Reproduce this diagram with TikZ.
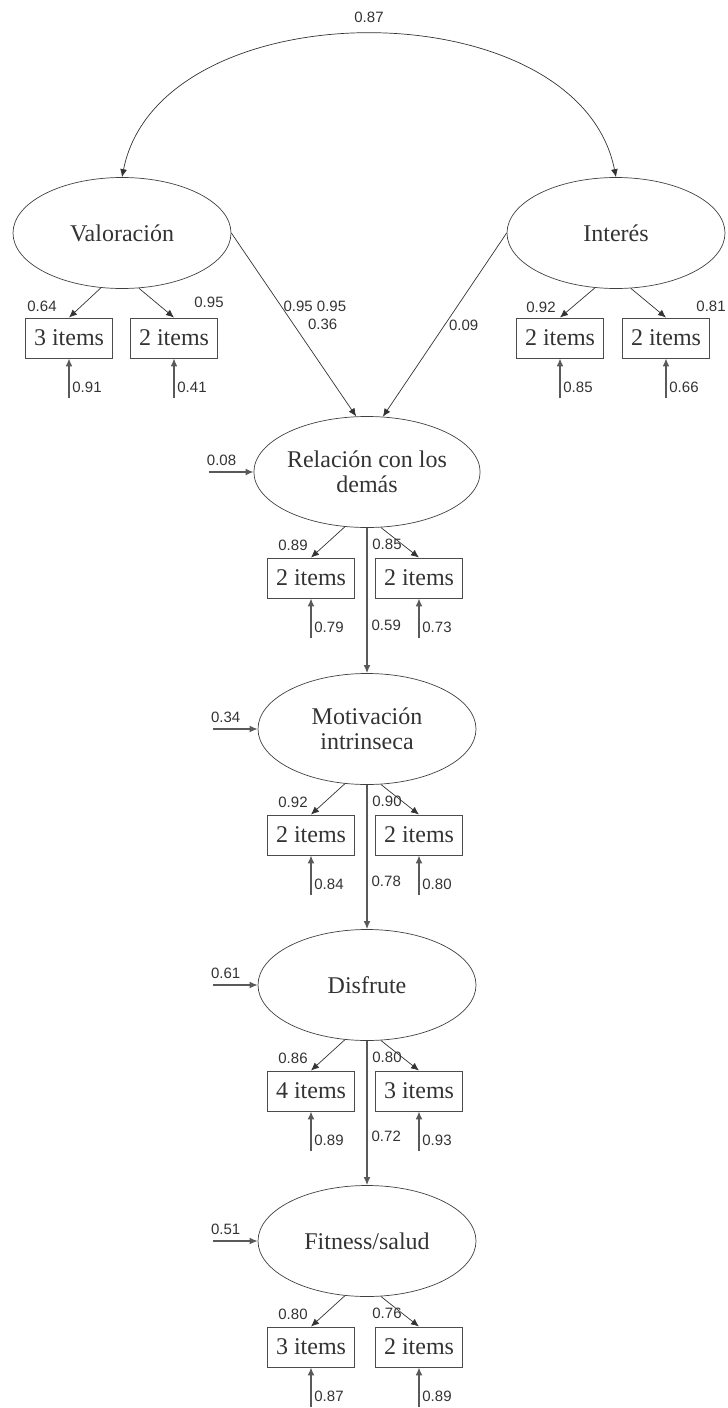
\documentclass[tikz,border=0pt]{standalone}
\usepackage{fontspec}
\setmainfont{Liberation Serif}
\newfontfamily\numfont{Liberation Sans}
\usepackage{tikz}
\usetikzlibrary{arrows.meta}
\usetikzlibrary{calc}
\usetikzlibrary{shapes}
\usetikzlibrary{positioning}
\tikzset{>={Latex[length=4pt,width=3.4pt]}}

\begin{document}
\begin{tikzpicture}[
        x=0.5pt, y=-0.5pt,
        latent/.style={ellipse, draw=black!75, line width=0.35pt, minimum width=109pt, minimum height=55.5pt,
            inner sep=0pt, align=center, text=black!80, font=\fontsize{12}{12.5}\selectfont},
        item/.style={draw=black!70, line width=0.45pt, minimum width=43.5pt, minimum height=20pt,
            inner sep=0pt, text=black!80, font=\fontsize{12}{12.5}\selectfont},
        load/.style={->, draw=black!80, line width=0.35pt},
        regress/.style={->, draw=black!65, line width=0.65pt},
        errarr/.style={->, draw=black!65, line width=0.6pt},
        coef/.style={inner sep=0pt, text=black!80, font=\numfont\fontsize{7.5}{8}\selectfont}
    ]
    \useasboundingbox (0,0) rectangle (728,1408);

    %=== Macros ===%
    \newcommand{\errorterm}[2]{
        \coordinate (#1e) at ($(#1.south)+(0,40)$);
        \draw[errarr] (#1e) -- (#1.south);
        \node[coef, anchor=west] at ($(#1.south)+(3,29)$) {#2};
    }
    \newcommand{\disturb}[2]{
        \coordinate (#1d) at ($(#1.west)+(-45,0)$);
        \draw[errarr] (#1d) -- (#1.west);
        \node[coef, anchor=south west] at ($(#1d)+(-2,-6)$) {#2};
    }
    \newcommand{\chainfactor}[9]{
        \pgfmathsetmacro{\yb}{#2+106}
        \node[latent] (#1) at (367,#2) {#3};
        \node[item] (#1a) at (311,\yb) {#4};
        \node[item] (#1b) at (419,\yb) {#5};
        \draw[load] (#1.-112) -- (#1a.north);
        \draw[load] (#1.-76) -- (#1b.north);
        \node[coef] at ($(#1a.north)+(-18,-12)$) {#6};
        \node[coef] at ($(#1b.north)+(-32,-13)$) {#7};
        \errorterm{#1a}{#8}
        \errorterm{#1b}{#9}
    }

    %=== Exogenous factors ===%
    \node[latent] (val) at (122,233) {Valoración};
    \node[latent] (int) at (616,233) {Interés};

    \draw[load, <->] (val.north) .. controls (160,-13) and (578,-13) .. (int.north)
        node[coef, pos=0.5, above=6pt] {0.87};

    \node[item] (va) at (69,338) {3 items};
    \node[item] (vb) at (174,338) {2 items};
    \node[item] (ia) at (560,338) {2 items};
    \node[item] (ib) at (666,338) {2 items};

    \draw[load] (val.-111) -- (va.north);
    \draw[load] (val.-73) -- (vb.north);
    \draw[load] (int.-111) -- (ia.north);
    \draw[load] (int.-75) -- (ib.north);
    \node[coef] at ($(va.north)+(-27,-11)$) {0.64};
    \node[coef] at ($(vb.north)+(35,-15)$) {0.95};
    \node[coef] at ($(ia.north)+(-19,-10)$) {0.92};
    \node[coef] at ($(ib.north)+(45,-11)$) {0.81};

    \errorterm{va}{0.91}
    \errorterm{vb}{0.41}
    \errorterm{ia}{0.85}
    \errorterm{ib}{0.66}

    %=== Chain of factors ===%
    \chainfactor{rel}{472}{Relación con los\\demás}{2 items}{2 items}{0.89}{0.85}{0.79}{0.73}
    \chainfactor{mot}{729}{Motivación\\intrinseca}{2 items}{2 items}{0.92}{0.90}{0.84}{0.80}
    \chainfactor{dis}{985}{Disfrute}{4 items}{3 items}{0.86}{0.80}{0.89}{0.93}
    \chainfactor{fit}{1241}{Fitness/salud}{3 items}{2 items}{0.80}{0.76}{0.87}{0.89}

    \disturb{rel}{0.08}
    \disturb{mot}{0.34}
    \disturb{dis}{0.61}
    \disturb{fit}{0.51}

    %=== Paths ===%
    \draw[load] (val.east) -- (rel.101)
        node[coef, pos=0.4, anchor=west, xshift=1pt] {0.95 0.95}
        node[coef, pos=0.5, anchor=west, xshift=7pt] {0.36};
    \draw[load] (int.west) -- (rel.74)
        node[coef, pos=0.5, anchor=west, xshift=2pt] {0.09};

    \draw[regress] (rel.south) -- (mot.north) node[coef, pos=0.67, anchor=west, xshift=2pt] {0.59};
    \draw[regress] (mot.south) -- (dis.north) node[coef, pos=0.67, anchor=west, xshift=2pt] {0.78};
    \draw[regress] (dis.south) -- (fit.north) node[coef, pos=0.66, anchor=west, xshift=2pt] {0.72};

\end{tikzpicture}
\end{document}
